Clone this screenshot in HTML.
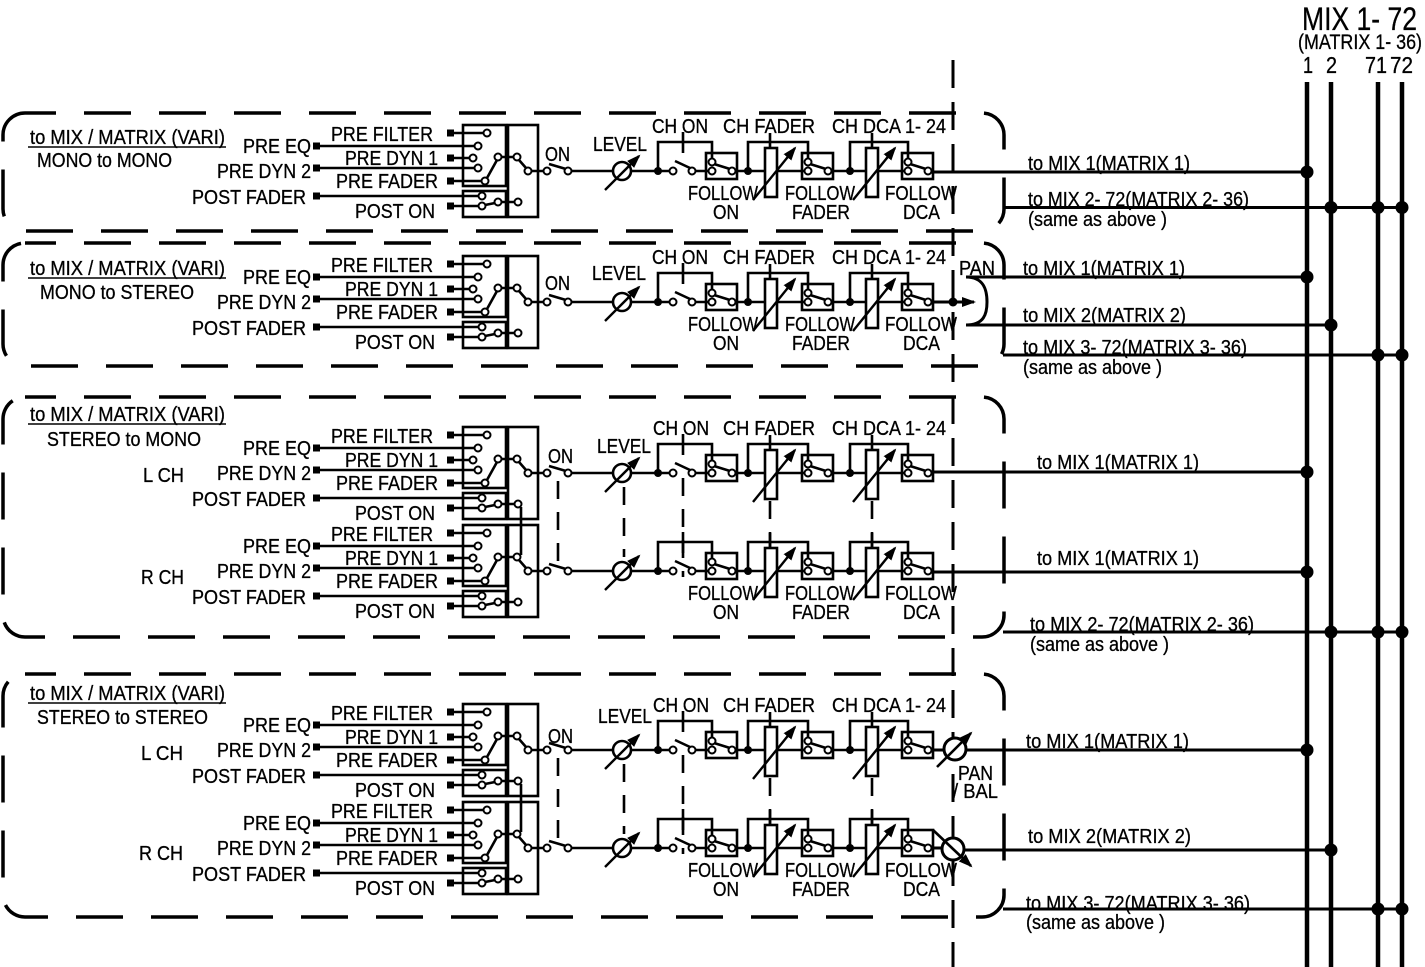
<!DOCTYPE html>
<html><head><meta charset="utf-8"><style>
html,body{margin:0;padding:0;background:#fff;}
svg{display:block;}
text{font-family:"Liberation Sans",Arial,sans-serif;font-size:20px;fill:#000;stroke:#000;stroke-width:0.3px;}
</style></head><body>
<svg width="1425" height="967" viewBox="0 0 1425 967" xmlns="http://www.w3.org/2000/svg">
<defs>
<marker id="ah" viewBox="0 0 14 10" refX="12" refY="5" markerWidth="14" markerHeight="10" markerUnits="userSpaceOnUse" orient="auto"><path d="M0,0L14,5L0,10z" fill="#000"/></marker>
<g id="ch">
 <g stroke="#000" stroke-width="2.6" fill="none">
  <path d="M320 -25H475M320 -3H475M320 25H479M454 -38H484M454 -13H470M454 10H482M454 35H479"/>
  <rect x="463" y="-46" width="43" height="61"/>
  <rect x="463" y="20" width="43" height="26"/>
  <rect x="508" y="-46" width="30" height="92"/>
  <path d="M497 -11L487 7M501 -14H514M519 -11L526 -3M531 0H544M485 34L495 32M501 31H515"/>
  <path d="M549 -7L566 -2"/>
  <path d="M571 0H613M631 0H669.5M695.5 0H708.5M735.5 0H765M777 0H804.5M831.5 0H866M878 0H904.5"/>
  <path d="M675 -10L690 -3"/>
  <rect x="706" y="-18" width="31" height="26"/>
  <rect x="802" y="-18" width="31" height="26"/>
  <rect x="902" y="-18" width="31" height="26"/>
  <path d="M714 -7L730 -2M810 -7L826 -2M910 -7L926 -2"/>
  <path d="M658 0V-29H712V-12.5M748 0V-29H808V-12.5M850 0V-29H908V-12.5"/>
  <path d="M683 -39V-18M770 -38V-23M872 -38V-23"/>
  <rect x="765" y="-23" width="12" height="49" fill="#fff"/>
  <rect x="866" y="-23" width="12" height="49" fill="#fff"/>
  <circle cx="622" cy="0" r="9" fill="#fff"/>
 </g>
 <g stroke="#000" stroke-width="2.4" fill="none">
  <line x1="605" y1="19" x2="639" y2="-15" marker-end="url(#ah)"/>
  <line x1="753" y1="29" x2="795" y2="-23" marker-end="url(#ah)"/>
  <line x1="853" y1="29" x2="895" y2="-23" marker-end="url(#ah)"/>
 </g>
 <g fill="#fff" stroke="#000" stroke-width="2">
  <circle cx="487" cy="-38" r="3.5"/><circle cx="478" cy="-25" r="3.5"/><circle cx="473" cy="-13" r="3.5"/>
  <circle cx="478" cy="-3" r="3.5"/><circle cx="485" cy="10" r="3.5"/><circle cx="498" cy="-14" r="3.5"/>
  <circle cx="517" cy="-14" r="3.5"/><circle cx="528" cy="0" r="3.5"/>
  <circle cx="482" cy="25" r="3.5"/><circle cx="482" cy="35" r="3.5"/><circle cx="498" cy="31" r="3.5"/><circle cx="518" cy="31" r="3.5"/>
  <circle cx="547" cy="0" r="3.5"/><circle cx="568" cy="0" r="3.5"/>
  <circle cx="673" cy="0" r="3.5"/><circle cx="692" cy="0" r="3.5"/>
  <circle cx="712" cy="-9" r="3.5"/><circle cx="712" cy="0" r="3.5"/><circle cx="732" cy="0" r="3.5"/>
  <circle cx="808" cy="-9" r="3.5"/><circle cx="808" cy="0" r="3.5"/><circle cx="828" cy="0" r="3.5"/>
  <circle cx="908" cy="-9" r="3.5"/><circle cx="908" cy="0" r="3.5"/><circle cx="928" cy="0" r="3.5"/>
 </g>
 <g fill="#000">
  <rect x="313" y="-28.5" width="7" height="7"/><rect x="313" y="-6.5" width="7" height="7"/><rect x="313" y="21.5" width="7" height="7"/>
  <rect x="447" y="-41.5" width="7" height="7"/><rect x="447" y="-16.5" width="7" height="7"/><rect x="447" y="6.5" width="7" height="7"/><rect x="447" y="31.5" width="7" height="7"/>
  <circle cx="658" cy="0" r="4"/><circle cx="748" cy="0" r="4"/><circle cx="850" cy="0" r="4"/>
 </g>
</g>
</defs>

<!-- dashed blocks -->
<g fill="none" stroke="#000" stroke-width="3.5" stroke-dasharray="47 28" stroke-dashoffset="16">
 <rect x="3" y="113" width="1001" height="118" rx="22"/>
 <rect x="3" y="243" width="1001" height="123" rx="22"/>
 <rect x="3" y="397" width="1001" height="240" rx="22"/>
 <rect x="3" y="674" width="1001" height="243" rx="22"/>
</g>
<line x1="953" y1="60" x2="953" y2="967" stroke="#000" stroke-width="3" stroke-dasharray="28 14"/>

<!-- channels -->
<use href="#ch" transform="translate(0,171)"/>
<use href="#ch" transform="translate(0,302)"/>
<use href="#ch" transform="translate(0,473)"/>
<use href="#ch" transform="translate(0,571)"/>
<use href="#ch" transform="translate(0,750)"/>
<use href="#ch" transform="translate(0,848)"/>

<!-- stereo links -->
<g stroke="#000" stroke-width="2.6" fill="none">
 <path d="M521 507V555M521 784V832"/>
</g>
<g stroke="#000" stroke-width="2.6" fill="none" stroke-dasharray="18 13">
 <path d="M558 481V563M624 487V557M683 478V577M770 501V548M872 501V548"/>
 <path d="M558 758V840M624 764V834M683 755V854M770 778V825M872 778V825"/>
</g>

<!-- outputs -->
<g stroke="#000" stroke-width="3" fill="none">
 <path d="M931 172H1307"/>
 <path d="M1003 207.5H1402"/>
 <path d="M931 302H974" marker-end="url(#ah)"/>
 <path d="M966 277C984 277 987 290 987 302C987 314 984 325 966 325"/>
 <path d="M966 277H1307M966 325H1331M1003 355H1402"/>
 <path d="M931 472H1307M931 572H1307M1003 632H1402"/>
 <path d="M931 750H944M966 750H1307M931 848H942M964 850H1331M1003 909H1402"/>
 <circle cx="955" cy="749" r="11" fill="#fff" stroke-width="3"/>
 <circle cx="953" cy="849" r="11" fill="#fff" stroke-width="3"/>
</g>
<g stroke="#000" stroke-width="2.6" fill="none">
 <line x1="937" y1="767" x2="971" y2="733" marker-end="url(#ah)"/>
 <line x1="933" y1="830" x2="971" y2="866" marker-end="url(#ah)"/>
</g>
<circle cx="953" cy="302" r="4.5" fill="#000"/>

<!-- bus -->
<g stroke="#000" stroke-width="4.5">
 <line x1="1307" y1="82" x2="1307" y2="967"/>
 <line x1="1331" y1="82" x2="1331" y2="967"/>
 <line x1="1378" y1="82" x2="1378" y2="967"/>
 <line x1="1402" y1="82" x2="1402" y2="967"/>
</g>
<g fill="#000">
 <circle cx="1307" cy="172" r="6.5"/><circle cx="1331" cy="207.5" r="6.5"/><circle cx="1378" cy="207.5" r="6.5"/><circle cx="1402" cy="207.5" r="6.5"/>
 <circle cx="1307" cy="277" r="6.5"/><circle cx="1331" cy="325" r="6.5"/><circle cx="1378" cy="355" r="6.5"/><circle cx="1402" cy="355" r="6.5"/>
 <circle cx="1307" cy="472" r="6.5"/><circle cx="1307" cy="572" r="6.5"/><circle cx="1331" cy="632" r="6.5"/><circle cx="1378" cy="632" r="6.5"/><circle cx="1402" cy="632" r="6.5"/>
 <circle cx="1307" cy="750" r="6.5"/><circle cx="1331" cy="850" r="6.5"/><circle cx="1378" cy="909" r="6.5"/><circle cx="1402" cy="909" r="6.5"/>
</g>

<!-- header -->
<text x="1302" y="30" style="font-size:32px" textLength="115" lengthAdjust="spacingAndGlyphs">MIX 1- 72</text>
<text x="1298" y="49" style="font-size:21px" textLength="124" lengthAdjust="spacingAndGlyphs">(MATRIX 1- 36)</text>
<text x="1303" y="73" style="font-size:23px" textLength="10" lengthAdjust="spacingAndGlyphs">1</text>
<text x="1326" y="73" style="font-size:23px" textLength="11" lengthAdjust="spacingAndGlyphs">2</text>
<text x="1365" y="73" style="font-size:23px" textLength="22" lengthAdjust="spacingAndGlyphs">71</text>
<text x="1390" y="73" style="font-size:23px" textLength="23" lengthAdjust="spacingAndGlyphs">72</text>

<!-- underlines -->
<g stroke="#000" stroke-width="1.5">
 <line x1="28" y1="147" x2="226" y2="147"/>
 <line x1="28" y1="278" x2="226" y2="278"/>
 <line x1="28" y1="424" x2="226" y2="424"/>
 <line x1="28" y1="703" x2="226" y2="703"/>
</g>

<!-- BLOCK 1 -->
<text x="30" y="144" textLength="195" lengthAdjust="spacingAndGlyphs">to MIX / MATRIX (VARI)</text>
<text x="37" y="167" textLength="135" lengthAdjust="spacingAndGlyphs">MONO to MONO</text>
<text x="243" y="153" textLength="68" lengthAdjust="spacingAndGlyphs">PRE EQ</text>
<text x="217" y="178" textLength="94" lengthAdjust="spacingAndGlyphs">PRE DYN 2</text>
<text x="192" y="204" textLength="114" lengthAdjust="spacingAndGlyphs">POST FADER</text>
<text x="331" y="141" textLength="102" lengthAdjust="spacingAndGlyphs">PRE FILTER</text>
<text x="345" y="165" textLength="93" lengthAdjust="spacingAndGlyphs">PRE DYN 1</text>
<text x="336" y="188" textLength="102" lengthAdjust="spacingAndGlyphs">PRE FADER</text>
<text x="355" y="218" textLength="80" lengthAdjust="spacingAndGlyphs">POST ON</text>
<text x="545" y="161" textLength="25" lengthAdjust="spacingAndGlyphs">ON</text>
<text x="593" y="151" textLength="54" lengthAdjust="spacingAndGlyphs">LEVEL</text>
<text x="652" y="133" textLength="56" lengthAdjust="spacingAndGlyphs">CH ON</text>
<text x="723" y="133" textLength="92" lengthAdjust="spacingAndGlyphs">CH FADER</text>
<text x="832" y="133" textLength="114" lengthAdjust="spacingAndGlyphs">CH DCA 1- 24</text>
<text x="688" y="200" textLength="70" lengthAdjust="spacingAndGlyphs">FOLLOW</text>
<text x="785" y="200" textLength="70" lengthAdjust="spacingAndGlyphs">FOLLOW</text>
<text x="885" y="200" textLength="72" lengthAdjust="spacingAndGlyphs">FOLLOW</text>
<text x="713" y="219" textLength="26" lengthAdjust="spacingAndGlyphs">ON</text>
<text x="792" y="219" textLength="58" lengthAdjust="spacingAndGlyphs">FADER</text>
<text x="903" y="219" textLength="37" lengthAdjust="spacingAndGlyphs">DCA</text>
<text x="1028" y="170" textLength="162" lengthAdjust="spacingAndGlyphs">to MIX 1(MATRIX 1)</text>
<text x="1028" y="206" textLength="221" lengthAdjust="spacingAndGlyphs">to MIX 2- 72(MATRIX 2- 36)</text>
<text x="1028" y="226" textLength="139" lengthAdjust="spacingAndGlyphs">(same as above )</text>

<!-- BLOCK 2 -->
<text x="30" y="275" textLength="195" lengthAdjust="spacingAndGlyphs">to MIX / MATRIX (VARI)</text>
<text x="40" y="299" textLength="154" lengthAdjust="spacingAndGlyphs">MONO to STEREO</text>
<text x="243" y="284" textLength="68" lengthAdjust="spacingAndGlyphs">PRE EQ</text>
<text x="217" y="309" textLength="94" lengthAdjust="spacingAndGlyphs">PRE DYN 2</text>
<text x="192" y="335" textLength="114" lengthAdjust="spacingAndGlyphs">POST FADER</text>
<text x="331" y="272" textLength="102" lengthAdjust="spacingAndGlyphs">PRE FILTER</text>
<text x="345" y="296" textLength="93" lengthAdjust="spacingAndGlyphs">PRE DYN 1</text>
<text x="336" y="319" textLength="102" lengthAdjust="spacingAndGlyphs">PRE FADER</text>
<text x="355" y="349" textLength="80" lengthAdjust="spacingAndGlyphs">POST ON</text>
<text x="545" y="290" textLength="25" lengthAdjust="spacingAndGlyphs">ON</text>
<text x="592" y="280" textLength="54" lengthAdjust="spacingAndGlyphs">LEVEL</text>
<text x="652" y="264" textLength="56" lengthAdjust="spacingAndGlyphs">CH ON</text>
<text x="723" y="264" textLength="92" lengthAdjust="spacingAndGlyphs">CH FADER</text>
<text x="832" y="264" textLength="114" lengthAdjust="spacingAndGlyphs">CH DCA 1- 24</text>
<text x="688" y="331" textLength="70" lengthAdjust="spacingAndGlyphs">FOLLOW</text>
<text x="785" y="331" textLength="70" lengthAdjust="spacingAndGlyphs">FOLLOW</text>
<text x="885" y="331" textLength="72" lengthAdjust="spacingAndGlyphs">FOLLOW</text>
<text x="713" y="350" textLength="26" lengthAdjust="spacingAndGlyphs">ON</text>
<text x="792" y="350" textLength="58" lengthAdjust="spacingAndGlyphs">FADER</text>
<text x="903" y="350" textLength="37" lengthAdjust="spacingAndGlyphs">DCA</text>
<text x="959" y="275" textLength="36" lengthAdjust="spacingAndGlyphs">PAN</text>
<text x="1023" y="275" textLength="162" lengthAdjust="spacingAndGlyphs">to MIX 1(MATRIX 1)</text>
<text x="1023" y="322" textLength="163" lengthAdjust="spacingAndGlyphs">to MIX 2(MATRIX 2)</text>
<text x="1023" y="354" textLength="224" lengthAdjust="spacingAndGlyphs">to MIX 3- 72(MATRIX 3- 36)</text>
<text x="1023" y="374" textLength="139" lengthAdjust="spacingAndGlyphs">(same as above )</text>

<!-- BLOCK 3 -->
<text x="30" y="421" textLength="195" lengthAdjust="spacingAndGlyphs">to MIX / MATRIX (VARI)</text>
<text x="47" y="446" textLength="154" lengthAdjust="spacingAndGlyphs">STEREO to MONO</text>
<text x="143" y="482" textLength="41" lengthAdjust="spacingAndGlyphs">L CH</text>
<text x="141" y="584" textLength="43" lengthAdjust="spacingAndGlyphs">R CH</text>
<text x="243" y="455" textLength="68" lengthAdjust="spacingAndGlyphs">PRE EQ</text>
<text x="217" y="480" textLength="94" lengthAdjust="spacingAndGlyphs">PRE DYN 2</text>
<text x="192" y="506" textLength="114" lengthAdjust="spacingAndGlyphs">POST FADER</text>
<text x="331" y="443" textLength="102" lengthAdjust="spacingAndGlyphs">PRE FILTER</text>
<text x="345" y="467" textLength="93" lengthAdjust="spacingAndGlyphs">PRE DYN 1</text>
<text x="336" y="490" textLength="102" lengthAdjust="spacingAndGlyphs">PRE FADER</text>
<text x="355" y="520" textLength="80" lengthAdjust="spacingAndGlyphs">POST ON</text>
<text x="243" y="553" textLength="68" lengthAdjust="spacingAndGlyphs">PRE EQ</text>
<text x="217" y="578" textLength="94" lengthAdjust="spacingAndGlyphs">PRE DYN 2</text>
<text x="192" y="604" textLength="114" lengthAdjust="spacingAndGlyphs">POST FADER</text>
<text x="331" y="541" textLength="102" lengthAdjust="spacingAndGlyphs">PRE FILTER</text>
<text x="345" y="565" textLength="93" lengthAdjust="spacingAndGlyphs">PRE DYN 1</text>
<text x="336" y="588" textLength="102" lengthAdjust="spacingAndGlyphs">PRE FADER</text>
<text x="355" y="618" textLength="80" lengthAdjust="spacingAndGlyphs">POST ON</text>
<text x="548" y="463" textLength="25" lengthAdjust="spacingAndGlyphs">ON</text>
<text x="597" y="453" textLength="54" lengthAdjust="spacingAndGlyphs">LEVEL</text>
<text x="653" y="435" textLength="56" lengthAdjust="spacingAndGlyphs">CH ON</text>
<text x="723" y="435" textLength="92" lengthAdjust="spacingAndGlyphs">CH FADER</text>
<text x="832" y="435" textLength="114" lengthAdjust="spacingAndGlyphs">CH DCA 1- 24</text>
<text x="688" y="600" textLength="70" lengthAdjust="spacingAndGlyphs">FOLLOW</text>
<text x="785" y="600" textLength="70" lengthAdjust="spacingAndGlyphs">FOLLOW</text>
<text x="885" y="600" textLength="72" lengthAdjust="spacingAndGlyphs">FOLLOW</text>
<text x="713" y="619" textLength="26" lengthAdjust="spacingAndGlyphs">ON</text>
<text x="792" y="619" textLength="58" lengthAdjust="spacingAndGlyphs">FADER</text>
<text x="903" y="619" textLength="37" lengthAdjust="spacingAndGlyphs">DCA</text>
<text x="1037" y="469" textLength="162" lengthAdjust="spacingAndGlyphs">to MIX 1(MATRIX 1)</text>
<text x="1037" y="565" textLength="162" lengthAdjust="spacingAndGlyphs">to MIX 1(MATRIX 1)</text>
<text x="1030" y="631" textLength="224" lengthAdjust="spacingAndGlyphs">to MIX 2- 72(MATRIX 2- 36)</text>
<text x="1030" y="651" textLength="139" lengthAdjust="spacingAndGlyphs">(same as above )</text>

<!-- BLOCK 4 -->
<text x="30" y="700" textLength="195" lengthAdjust="spacingAndGlyphs">to MIX / MATRIX (VARI)</text>
<text x="37" y="724" textLength="171" lengthAdjust="spacingAndGlyphs">STEREO to STEREO</text>
<text x="141" y="760" textLength="42" lengthAdjust="spacingAndGlyphs">L CH</text>
<text x="139" y="860" textLength="44" lengthAdjust="spacingAndGlyphs">R CH</text>
<text x="243" y="732" textLength="68" lengthAdjust="spacingAndGlyphs">PRE EQ</text>
<text x="217" y="757" textLength="94" lengthAdjust="spacingAndGlyphs">PRE DYN 2</text>
<text x="192" y="783" textLength="114" lengthAdjust="spacingAndGlyphs">POST FADER</text>
<text x="331" y="720" textLength="102" lengthAdjust="spacingAndGlyphs">PRE FILTER</text>
<text x="345" y="744" textLength="93" lengthAdjust="spacingAndGlyphs">PRE DYN 1</text>
<text x="336" y="767" textLength="102" lengthAdjust="spacingAndGlyphs">PRE FADER</text>
<text x="355" y="797" textLength="80" lengthAdjust="spacingAndGlyphs">POST ON</text>
<text x="243" y="830" textLength="68" lengthAdjust="spacingAndGlyphs">PRE EQ</text>
<text x="217" y="855" textLength="94" lengthAdjust="spacingAndGlyphs">PRE DYN 2</text>
<text x="192" y="881" textLength="114" lengthAdjust="spacingAndGlyphs">POST FADER</text>
<text x="331" y="818" textLength="102" lengthAdjust="spacingAndGlyphs">PRE FILTER</text>
<text x="345" y="842" textLength="93" lengthAdjust="spacingAndGlyphs">PRE DYN 1</text>
<text x="336" y="865" textLength="102" lengthAdjust="spacingAndGlyphs">PRE FADER</text>
<text x="355" y="895" textLength="80" lengthAdjust="spacingAndGlyphs">POST ON</text>
<text x="548" y="743" textLength="25" lengthAdjust="spacingAndGlyphs">ON</text>
<text x="598" y="723" textLength="54" lengthAdjust="spacingAndGlyphs">LEVEL</text>
<text x="653" y="712" textLength="56" lengthAdjust="spacingAndGlyphs">CH ON</text>
<text x="723" y="712" textLength="92" lengthAdjust="spacingAndGlyphs">CH FADER</text>
<text x="832" y="712" textLength="114" lengthAdjust="spacingAndGlyphs">CH DCA 1- 24</text>
<text x="688" y="877" textLength="70" lengthAdjust="spacingAndGlyphs">FOLLOW</text>
<text x="785" y="877" textLength="70" lengthAdjust="spacingAndGlyphs">FOLLOW</text>
<text x="885" y="877" textLength="72" lengthAdjust="spacingAndGlyphs">FOLLOW</text>
<text x="713" y="896" textLength="26" lengthAdjust="spacingAndGlyphs">ON</text>
<text x="792" y="896" textLength="58" lengthAdjust="spacingAndGlyphs">FADER</text>
<text x="903" y="896" textLength="37" lengthAdjust="spacingAndGlyphs">DCA</text>
<text x="958" y="780" textLength="35" lengthAdjust="spacingAndGlyphs">PAN</text>
<text x="953" y="798" textLength="45" lengthAdjust="spacingAndGlyphs">/ BAL</text>
<text x="1026" y="748" textLength="163" lengthAdjust="spacingAndGlyphs">to MIX 1(MATRIX 1)</text>
<text x="1028" y="843" textLength="163" lengthAdjust="spacingAndGlyphs">to MIX 2(MATRIX 2)</text>
<text x="1026" y="910" textLength="224" lengthAdjust="spacingAndGlyphs">to MIX 3- 72(MATRIX 3- 36)</text>
<text x="1026" y="929" textLength="139" lengthAdjust="spacingAndGlyphs">(same as above )</text>
</svg>
</body></html>
